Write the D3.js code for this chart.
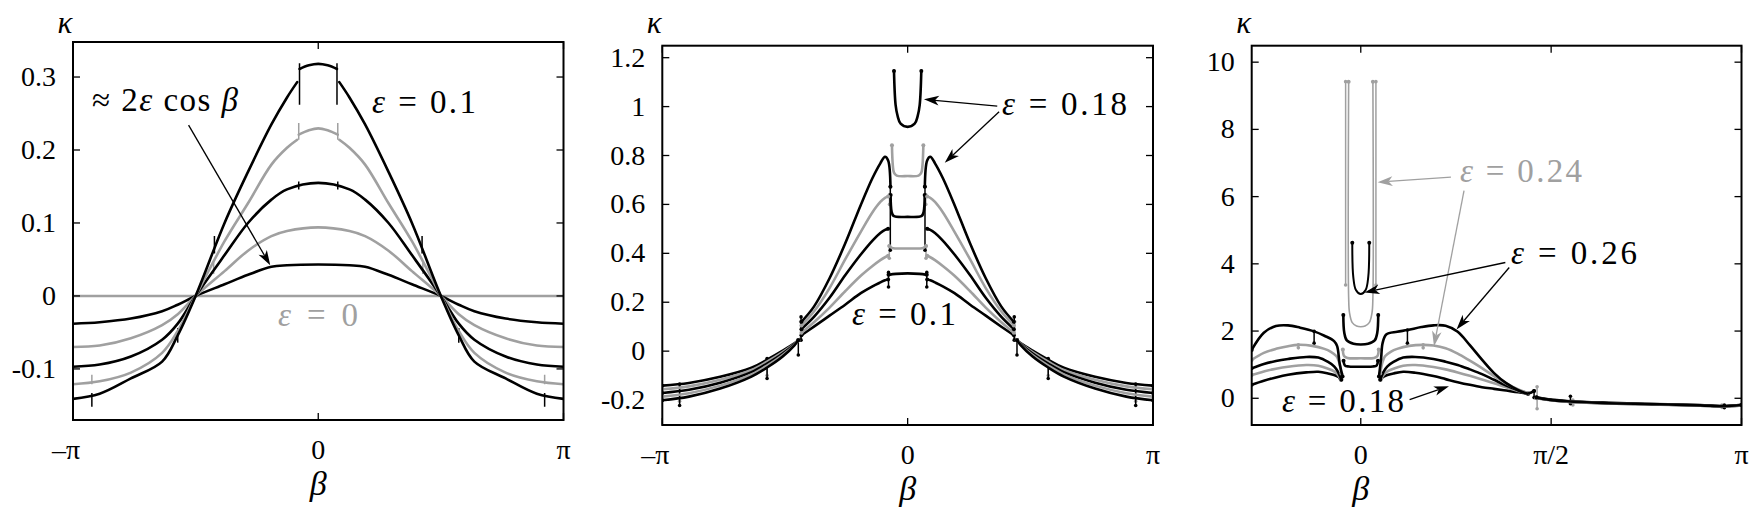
<!DOCTYPE html>
<html><head><meta charset="utf-8">
<script src="https://cdn.jsdelivr.net/npm/d3@7"></script>
<style>body{margin:0;background:#fff;}</style>
</head><body>
<svg id="c" width="1758" height="513"></svg>
<script>
const PI = Math.PI;

// ---------------- Panel 1 data (epsilon = 0 ... 0.1) ----------------
const p1_eps = [0, 0.02, 0.04, 0.06, 0.08, 0.1];
const p1_b   = [-3.1416,-2.8,-2.4,-2.0,-1.8,-1.5708,-1.2,-0.9,-0.6,-0.4,0,0.4,0.6,0.9,1.2,1.5708,1.8,2.0,2.4,2.8,3.1416];
const p1_k0  = [0,0,0,0,0,0,0,0,0,0,0,0,0,0,0,0,0,0,0,0,0];
const p1_k02 = [-0.038,-0.036,-0.031,-0.021,-0.012,0,0.016,0.029,0.040,0.042,0.043,0.042,0.040,0.029,0.016,0,-0.012,-0.021,-0.031,-0.036,-0.038];
const p1_k04 = [-0.070,-0.068,-0.058,-0.040,-0.025,0,0.034,0.062,0.082,0.089,0.094,0.089,0.082,0.062,0.034,0,-0.025,-0.040,-0.058,-0.068,-0.070];
const p1_k06 = [-0.097,-0.094,-0.083,-0.060,-0.038,0,0.056,0.100,0.132,0.146,0.155,0.146,0.132,0.100,0.056,0,-0.038,-0.060,-0.083,-0.094,-0.097];
const p1_bL  = [-3.1416,-2.8,-2.4,-2.0,-1.8,-1.5708,-1.2,-0.9,-0.6,-0.4,-0.27];
const p1_bR  = [0.27,0.4,0.6,0.9,1.2,1.5708,1.8,2.0,2.4,2.8,3.1416];
const p1_k08L = [-0.121,-0.117,-0.105,-0.078,-0.048,0,0.075,0.127,0.180,0.203,0.214];
const p1_k08R = [0.214,0.203,0.180,0.127,0.075,0,-0.048,-0.078,-0.105,-0.117,-0.121];
const p1_b08C = [-0.25,-0.12,0,0.12,0.25];
const p1_k08C = [0.221,0.227,0.2297,0.227,0.221];
const p1_k10L = [-0.141,-0.134,-0.113,-0.090,-0.054,0,0.100,0.170,0.235,0.272,0.293];
const p1_k10R = [0.293,0.272,0.235,0.170,0.100,0,-0.054,-0.090,-0.113,-0.134,-0.141];
const p1_b10C = [-0.24,-0.12,0,0.12,0.24];
const p1_k10C = [0.311,0.316,0.318,0.316,0.311];
// jumps: [beta, kappa from, kappa to]
const p1_jumpsBlack = [[-2.90,-0.133,-0.152],[2.90,-0.133,-0.152],[-1.80,-0.044,-0.064],[1.80,-0.044,-0.064],
  [-1.33,0.058,0.082],[1.33,0.058,0.082],[-0.24,0.262,0.319],[0.24,0.262,0.319],[-0.25,0.146,0.157],[0.25,0.146,0.157]];
const p1_jumpsGray = [[-2.90,-0.121,-0.108],[2.90,-0.121,-0.108],[-1.34,0.030,0.046],[1.34,0.030,0.046],
  [-0.25,0.214,0.237],[0.25,0.214,0.237]];
const p1_xticks = [-PI, 0, PI], p1_xlabels = ["\u2013\u03c0","0","\u03c0"];
const p1_yticks = [-0.1,0,0.1,0.2,0.3], p1_ylabels = ["-0.1","0","0.1","0.2","0.3"];
const p1_arrow = [[-1.661,0.234],[-0.615,0.042]];

// ---------------- Panel 2 data (epsilon = 0.1 ... 0.18) ----------------
const p2_eps = [0.1, 0.12, 0.14, 0.16, 0.18];
const p2_tailBL = [-3.1416,-2.8,-2.4,-2.0,-1.8,-1.6,-1.45,-1.40];
const p2_tailBR = [1.40,1.45,1.6,1.8,2.0,2.4,2.8,3.1416];
const p2_tail10L = [-0.141,-0.130,-0.105,-0.068,-0.035,0.002,0.032,0.045];
const p2_tail10R = [0.045,0.032,0.002,-0.035,-0.068,-0.105,-0.130,-0.141];
const p2_tail12L = [-0.156,-0.144,-0.117,-0.077,-0.043,-0.004,0.030,0.045];
const p2_tail12R = [0.045,0.030,-0.004,-0.043,-0.077,-0.117,-0.144,-0.156];
const p2_tail14L = [-0.171,-0.158,-0.129,-0.086,-0.051,-0.010,0.028,0.045];
const p2_tail14R = [0.045,0.028,-0.010,-0.051,-0.086,-0.129,-0.158,-0.171];
const p2_tail16L = [-0.186,-0.172,-0.141,-0.095,-0.059,-0.016,0.026,0.045];
const p2_tail16R = [0.045,0.026,-0.016,-0.059,-0.095,-0.141,-0.172,-0.186];
const p2_tail18L = [-0.201,-0.186,-0.153,-0.104,-0.067,-0.022,0.024,0.045];
const p2_tail18R = [0.045,0.024,-0.022,-0.067,-0.104,-0.153,-0.186,-0.201];
const p2_outBL = [-1.36,-1.2,-1.0,-0.8,-0.6,-0.45,-0.35,-0.29,-0.25];
const p2_outBR = [0.25,0.29,0.35,0.45,0.6,0.8,1.0,1.2,1.36];
const p2_out10L = [0.065,0.100,0.145,0.190,0.237,0.265,0.281,0.290,0.293];
const p2_out10R = [0.293,0.290,0.281,0.265,0.237,0.190,0.145,0.100,0.065];
const p2_out12L = [0.075,0.118,0.178,0.245,0.308,0.348,0.372,0.384,0.390];
const p2_out12R = [0.390,0.384,0.372,0.348,0.308,0.245,0.178,0.118,0.075];
const p2_out14L = [0.090,0.140,0.218,0.310,0.395,0.452,0.483,0.496,0.500];
const p2_out14R = [0.500,0.496,0.483,0.452,0.395,0.310,0.218,0.140,0.090];
const p2_out16L = [0.105,0.162,0.258,0.375,0.488,0.568,0.610,0.627,0.632];
const p2_out16R = [0.632,0.627,0.610,0.568,0.488,0.375,0.258,0.162,0.105];
const p2_out18BL = [-1.36,-1.2,-1.0,-0.8,-0.6,-0.45,-0.35,-0.29,-0.25,-0.22];
const p2_out18BR = [0.22,0.25,0.29,0.35,0.45,0.6,0.8,1.0,1.2,1.36];
const p2_out18L = [0.120,0.182,0.298,0.440,0.598,0.708,0.768,0.795,0.780,0.672];
const p2_out18R = [0.672,0.780,0.795,0.768,0.708,0.598,0.440,0.298,0.182,0.120];
const p2_c10B = [-0.245,-0.15,0,0.15,0.245], p2_c10K = [0.312,0.316,0.318,0.316,0.312];
const p2_c12B = [-0.235,-0.2,0,0.2,0.235],   p2_c12K = [0.430,0.422,0.420,0.422,0.430];
const p2_c14B = [-0.218,-0.205,-0.18,0,0.18,0.205,0.218], p2_c14K = [0.638,0.570,0.553,0.549,0.553,0.570,0.638];
const p2_c16B = [-0.201,-0.19,-0.175,-0.14,0,0.14,0.175,0.19,0.201], p2_c16K = [0.842,0.760,0.730,0.718,0.716,0.718,0.730,0.760,0.842];
const p2_c18B = [-0.175,-0.154,-0.128,-0.09,0,0.09,0.128,0.154,0.175], p2_c18K = [1.146,1.006,0.961,0.930,0.917,0.930,0.961,1.006,1.146];
const p2_jumpsBlack = [[-2.92,-0.135,-0.222],[2.92,-0.135,-0.222],[-1.80,-0.030,-0.112],[1.80,-0.030,-0.112],
  [-1.40,0.045,-0.016],[1.40,0.045,-0.016],[-1.365,0.045,0.140],[1.365,0.045,0.140],
  [-0.245,0.262,0.322],[0.245,0.262,0.322],[-0.222,0.413,0.672],[0.222,0.413,0.672]];
const p2_jumpsGray = [[-2.92,-0.150,-0.205],[2.92,-0.150,-0.205],[-1.80,-0.045,-0.100],[1.80,-0.045,-0.100],
  [-1.37,0.050,0.120],[1.37,0.050,0.120],[-0.235,0.380,0.430],[0.235,0.380,0.430],[-0.232,0.600,0.640],[0.232,0.600,0.640]];
const p2_xticks = [-PI,0,PI], p2_xlabels = ["\u2013\u03c0","0","\u03c0"];
const p2_yticks = [-0.2,0,0.2,0.4,0.6,0.8,1,1.2], p2_ylabels = ["-0.2","0","0.2","0.4","0.6","0.8","1","1.2"];
const p2_arrows = [[[1.147,1.002],[0.209,1.03]],[[1.171,0.979],[0.475,0.77]]];

// ---------------- Panel 3 data (epsilon = 0.18 ... 0.26) ----------------
const p3_eps = [0.18, 0.2, 0.22, 0.24, 0.26];
const p3_tailB = [1.45,1.55,1.7,2.0,2.4,2.8,3.0,3.1416];
const p3_tail18 = [0.030,-0.030,-0.080,-0.130,-0.168,-0.205,-0.230,-0.195];
const p3_tail20 = [0.005,-0.050,-0.100,-0.150,-0.183,-0.218,-0.240,-0.210];
const p3_tail22 = [0.010,-0.045,-0.095,-0.145,-0.180,-0.215,-0.238,-0.205];
const p3_tail24 = [0.000,-0.050,-0.100,-0.150,-0.185,-0.220,-0.240,-0.210];
const p3_tail26 = [0.020,-0.040,-0.090,-0.140,-0.175,-0.210,-0.235,-0.200];
const p3_18LB = [-0.9,-0.8,-0.7,-0.6,-0.45,-0.35,-0.27,-0.22,-0.19,-0.17];
const p3_18LK = [0.40,0.52,0.62,0.70,0.77,0.79,0.74,0.69,0.645,0.60];
const p3_18CB = [-0.142,-0.132,-0.10,0,0.10,0.132,0.142], p3_18CK = [1.12,0.98,0.945,0.94,0.945,0.98,1.12];
const p3_18RB = [0.17,0.19,0.22,0.27,0.35,0.45,0.6,0.7,0.8,0.9,1.0,1.1,1.2,1.3,1.38];
const p3_18RK = [0.60,0.645,0.69,0.74,0.79,0.76,0.66,0.57,0.48,0.40,0.33,0.28,0.23,0.18,0.13];
const p3_20LB = [-0.9,-0.8,-0.7,-0.6,-0.45,-0.35,-0.27,-0.22,-0.19,-0.165];
const p3_20LK = [0.69,0.80,0.88,0.94,0.99,0.97,0.88,0.80,0.70,0.55];
const p3_20CB = [-0.148,-0.138,-0.11,0,0.11,0.138,0.148], p3_20CK = [1.45,1.26,1.20,1.19,1.20,1.26,1.45];
const p3_20RB = [0.165,0.19,0.22,0.27,0.35,0.45,0.6,0.7,0.8,0.9,1.0,1.1,1.2,1.3,1.38];
const p3_20RK = [0.55,0.70,0.80,0.88,0.97,0.99,0.93,0.86,0.77,0.67,0.56,0.45,0.33,0.22,0.14];
const p3_22LB = [-0.9,-0.8,-0.7,-0.6,-0.45,-0.35,-0.27,-0.22,-0.19,-0.16];
const p3_22LK = [0.89,1.02,1.11,1.17,1.23,1.21,1.08,0.95,0.80,0.55];
const p3_22CB = [-0.144,-0.136,-0.115,-0.06,0,0.06,0.115,0.136,0.144], p3_22CK = [2.48,1.95,1.72,1.62,1.60,1.62,1.72,1.95,2.48];
const p3_22RB = [0.16,0.19,0.22,0.27,0.35,0.45,0.6,0.7,0.8,0.9,1.0,1.1,1.2,1.3,1.38];
const p3_22RK = [0.55,0.80,0.95,1.08,1.21,1.23,1.17,1.09,0.99,0.86,0.72,0.55,0.38,0.24,0.15];
const p3_24LB = [-0.9,-0.8,-0.7,-0.6,-0.515,-0.4,-0.3,-0.25,-0.2,-0.18,-0.16];
const p3_24LK = [1.14,1.35,1.47,1.55,1.59,1.56,1.47,1.39,1.25,1.08,0.74];
const p3_24CB = [-0.10,-0.10,-0.093,-0.07,-0.035,0,0.035,0.07,0.093,0.10,0.10];
const p3_24CK = [9.42,3.0,2.55,2.25,2.15,2.13,2.15,2.25,2.55,3.0,9.42];
const p3_24RB = [0.16,0.18,0.2,0.25,0.3,0.4,0.515,0.6,0.7,0.8,0.9,1.0,1.1,1.2,1.3,1.38];
const p3_24RK = [0.74,1.08,1.25,1.39,1.47,1.56,1.59,1.57,1.49,1.33,1.12,0.90,0.66,0.44,0.26,0.16];
const p3_26LB = [-0.9,-0.8,-0.7,-0.6,-0.5,-0.385,-0.3,-0.22,-0.195,-0.175,-0.15];
const p3_26LK = [1.44,1.95,2.15,2.17,2.10,1.99,1.86,1.70,1.55,1.05,0.645];
const p3_26CB = [-0.07,-0.062,-0.04,0,0.04,0.062,0.07], p3_26CK = [4.63,3.62,3.22,3.10,3.22,3.62,4.63];
const p3_26RB = [0.15,0.168,0.18,0.21,0.3,0.385,0.5,0.6,0.7,0.8,0.9,1.0,1.1,1.2,1.3,1.38,1.43];
const p3_26RK = [0.645,1.2,1.64,1.90,1.98,2.03,2.12,2.17,2.16,1.98,1.58,1.15,0.75,0.45,0.24,0.14,0.22];
// straight vertical pieces: [beta, kappa from, kappa to]
const p3_jumpsBlack = [[-0.385,1.99,1.64],[0.385,2.03,1.64],[1.73,0.06,-0.16],[3.0,-0.20,-0.28],[1.43,0.22,0.02]];
const p3_jumpsGray = [[-0.125,9.42,3.37],[0.125,9.42,3.37],[-0.515,1.59,1.50],[0.515,1.59,1.50],
  [1.455,0.34,-0.31],[1.75,-0.05,-0.20],[2.98,-0.20,-0.27]];
const p3_xticks = [0, PI/2, PI], p3_xlabels = ["0","\u03c0/2","\u03c0"];
const p3_yticks = [0,2,4,6,8,10], p3_ylabels = ["0","2","4","6","8","10"];
const p3_arrowsGray  = [[[0.744,6.58],[0.139,6.43]],[[0.852,6.18],[0.604,1.55]]];
const p3_arrowsBlack = [[[1.193,4.04],[0.031,3.15]],[[1.225,3.89],[0.79,2.05]],[[0.403,-0.04],[0.728,0.36]]];

// ---------------- drawing ----------------
const BLACK = "#000", GRAY = "#a0a0a0";
const FONT = "Liberation Serif";
const svg = d3.select("#c");
const Z = (b, k) => d3.zip(b, k);

const layout = [
  {x0:73,   x1:563.5,  y0:42,   y1:420, xd:[-PI,PI],  yd:[-0.17,0.348]},
  {x0:662.3,x1:1153,   y0:45.7, y1:425, xd:[-PI,PI],  yd:[-0.302,1.249]},
  {x0:1251.7,x1:1741.5,y0:45.7, y1:425, xd:[-0.9,PI], yd:[-0.795,10.49]}
];

function arrowHead(g, sx, sy, a, color) {
  const x0 = sx(a[0][0]), y0 = sy(a[0][1]), x1 = sx(a[1][0]), y1 = sy(a[1][1]);
  const ang = Math.atan2(y1 - y0, x1 - x0), c = Math.cos(ang), s = Math.sin(ang);
  const L = 15, W = 4.8, N = 11;
  g.append("line").attr("x1", x0).attr("y1", y0).attr("x2", x1 - N*c).attr("y2", y1 - N*s)
    .attr("stroke", color).attr("stroke-width", 1.3);
  const bx = x1 - L*c, by = y1 - L*s;
  g.append("path").attr("d", `M${x1},${y1}L${bx - W*s},${by + W*c}L${x1 - N*c},${y1 - N*s}L${bx + W*s},${by - W*c}Z`)
    .attr("fill", color);
}

function txt(g) { return g.append("text").attr("font-family", FONT); }

function eqText(g, x, y, val, color, w) {
  const t = txt(g).attr("x", x).attr("y", y).attr("font-size", 33)
    .attr("textLength", w).attr("lengthAdjust", "spacing").attr("fill", color);
  t.append("tspan").attr("font-style", "italic").text("\u03b5");
  t.append("tspan").text(" = " + val);
  return t;
}

function panel(i, curves, jumpsB, jumpsG, xt, xl, yt, yl, dots) {
  const L = layout[i];
  const sx = d3.scaleLinear().domain(L.xd).range([L.x0, L.x1]);
  const sy = d3.scaleLinear().domain(L.yd).range([L.y1, L.y0]);
  svg.append("clipPath").attr("id", "cp" + i).append("rect")
    .attr("x", L.x0).attr("y", L.y0).attr("width", L.x1 - L.x0).attr("height", L.y1 - L.y0);
  const g = svg.append("g").attr("clip-path", `url(#cp${i})`);
  const smooth = d3.line().x(d => sx(d[0])).y(d => sy(d[1])).curve(d3.curveCatmullRom.alpha(0.5));
  const straight = d3.line().x(d => sx(d[0])).y(d => sy(d[1]));
  [[jumpsG, GRAY], [jumpsB, BLACK]].forEach(([J, col]) => {
    J.forEach(j => {
      g.append("path").attr("d", straight([[j[0], j[1]], [j[0], j[2]]])).attr("fill", "none")
        .attr("stroke", col).attr("stroke-width", 1.5);
      if (dots) [j[1], j[2]].forEach(k => g.append("circle").attr("cx", sx(j[0])).attr("cy", sy(k)).attr("r", 1.8).attr("fill", col));
    });
  });
  curves.forEach(cv => {
    cv.segs.forEach(sg => {
      g.append("path").attr("d", smooth(sg)).attr("fill", "none").attr("stroke", cv.color)
        .attr("stroke-width", cv.w || 2.6).attr("stroke-linejoin", "round").attr("stroke-linecap", "round");
      if (dots) [sg[0], sg[sg.length - 1]].forEach(p => g.append("circle").attr("cx", sx(p[0])).attr("cy", sy(p[1])).attr("r", 2).attr("fill", cv.color));
    });
  });
  const ax = svg.append("g");
  const tk = 7;
  xt.forEach(v => {
    ax.append("line").attr("x1", sx(v)).attr("x2", sx(v)).attr("y1", L.y1).attr("y2", L.y1 - tk).attr("stroke", "#000").attr("stroke-width", 1.3);
    ax.append("line").attr("x1", sx(v)).attr("x2", sx(v)).attr("y1", L.y0).attr("y2", L.y0 + tk).attr("stroke", "#000").attr("stroke-width", 1.3);
  });
  yt.forEach(v => {
    ax.append("line").attr("x1", L.x0).attr("x2", L.x0 + tk).attr("y1", sy(v)).attr("y2", sy(v)).attr("stroke", "#000").attr("stroke-width", 1.3);
    ax.append("line").attr("x1", L.x1).attr("x2", L.x1 - tk).attr("y1", sy(v)).attr("y2", sy(v)).attr("stroke", "#000").attr("stroke-width", 1.3);
  });
  ax.append("rect").attr("x", L.x0).attr("y", L.y0).attr("width", L.x1 - L.x0).attr("height", L.y1 - L.y0)
    .attr("fill", "none").attr("stroke", "#000").attr("stroke-width", 2);
  xt.forEach((v, k) => {
    txt(ax).attr("x", sx(v) + (xl[k].startsWith("\u2013") ? -7 : 0)).attr("y", L.y1 + 39)
      .attr("text-anchor", "middle").attr("font-size", 28).text(xl[k]);
  });
  yt.forEach((v, k) => {
    txt(ax).attr("x", L.x0 - 17).attr("y", sy(v) + 9).attr("text-anchor", "end")
      .attr("font-size", 28).text(yl[k]);
  });
  txt(ax).attr("x", sx(0)).attr("y", L.y1 + 75).attr("text-anchor", "middle")
    .attr("font-size", 34).attr("font-style", "italic").text("\u03b2");
  txt(ax).attr("x", L.x0 - 8).attr("y", 33).attr("text-anchor", "middle")
    .attr("font-size", 31).attr("font-style", "italic").text("\u03ba");
  return {sx, sy, g: svg.append("g")};
}

// Panel 1
const c1 = [
  {color: GRAY,  segs: [Z(p1_b, p1_k0)]},
  {color: BLACK, segs: [Z(p1_b, p1_k02)]},
  {color: GRAY,  segs: [Z(p1_b, p1_k04)]},
  {color: BLACK, segs: [Z(p1_b, p1_k06)]},
  {color: GRAY,  segs: [Z(p1_bL, p1_k08L), Z(p1_b08C, p1_k08C), Z(p1_bR, p1_k08R)]},
  {color: BLACK, segs: [Z(p1_bL, p1_k10L), Z(p1_b10C, p1_k10C), Z(p1_bR, p1_k10R)]}
];
const P1 = panel(0, c1, p1_jumpsBlack, p1_jumpsGray, p1_xticks, p1_xlabels, p1_yticks, p1_ylabels, false);
arrowHead(P1.g, P1.sx, P1.sy, p1_arrow, BLACK);
{
  const t = txt(P1.g).attr("x", 92).attr("y", 111).attr("font-size", 33)
    .attr("textLength", 146).attr("lengthAdjust", "spacing");
  t.append("tspan").text("\u2248 2");
  t.append("tspan").attr("font-style", "italic").text("\u03b5");
  t.append("tspan").text(" cos ");
  t.append("tspan").attr("font-style", "italic").text("\u03b2");
}
eqText(P1.g, 372, 113, "0.1", BLACK, 104);
eqText(P1.g, 278, 326, "0", GRAY, 80);

// Panel 2
const c2 = [
  {color: BLACK, segs: [Z(p2_tailBL, p2_tail10L), Z(p2_outBL, p2_out10L), Z(p2_c10B, p2_c10K), Z(p2_outBR, p2_out10R), Z(p2_tailBR, p2_tail10R)]},
  {color: GRAY,  segs: [Z(p2_tailBL, p2_tail12L), Z(p2_outBL, p2_out12L), Z(p2_c12B, p2_c12K), Z(p2_outBR, p2_out12R), Z(p2_tailBR, p2_tail12R)]},
  {color: BLACK, segs: [Z(p2_tailBL, p2_tail14L), Z(p2_outBL, p2_out14L), Z(p2_c14B, p2_c14K), Z(p2_outBR, p2_out14R), Z(p2_tailBR, p2_tail14R)]},
  {color: GRAY,  segs: [Z(p2_tailBL, p2_tail16L), Z(p2_outBL, p2_out16L), Z(p2_c16B, p2_c16K), Z(p2_outBR, p2_out16R), Z(p2_tailBR, p2_tail16R)]},
  {color: BLACK, segs: [Z(p2_tailBL, p2_tail18L), Z(p2_out18BL, p2_out18L), Z(p2_c18B, p2_c18K), Z(p2_out18BR, p2_out18R), Z(p2_tailBR, p2_tail18R)]}
];
const P2 = panel(1, c2, p2_jumpsBlack, p2_jumpsGray, p2_xticks, p2_xlabels, p2_yticks, p2_ylabels, true);
p2_arrows.forEach(a => arrowHead(P2.g, P2.sx, P2.sy, a, BLACK));
eqText(P2.g, 1002, 115, "0.18", BLACK, 125);
eqText(P2.g, 852, 325, "0.1", BLACK, 104);

// Panel 3
const c3 = [
  {color: BLACK, segs: [Z(p3_18LB, p3_18LK), Z(p3_18CB, p3_18CK), Z(p3_18RB, p3_18RK), Z(p3_tailB, p3_tail18)]},
  {color: GRAY,  segs: [Z(p3_20LB, p3_20LK), Z(p3_20CB, p3_20CK), Z(p3_20RB, p3_20RK), Z(p3_tailB, p3_tail20)]},
  {color: BLACK, segs: [Z(p3_22LB, p3_22LK), Z(p3_22CB, p3_22CK), Z(p3_22RB, p3_22RK), Z(p3_tailB, p3_tail22)]},
  {color: GRAY,  segs: [Z(p3_24LB, p3_24LK), Z(p3_24RB, p3_24RK), Z(p3_tailB, p3_tail24)]},
  {color: GRAY,  w: 1.6, segs: [Z(p3_24CB, p3_24CK)]},
  {color: BLACK, segs: [Z(p3_26LB, p3_26LK), Z(p3_26RB, p3_26RK), Z(p3_tailB, p3_tail26)]},
  {color: BLACK, w: 2, segs: [Z(p3_26CB, p3_26CK)]}
];
const P3 = panel(2, c3, p3_jumpsBlack, p3_jumpsGray, p3_xticks, p3_xlabels, p3_yticks, p3_ylabels, true);
p3_arrowsGray.forEach(a => arrowHead(P3.g, P3.sx, P3.sy, a, GRAY));
p3_arrowsBlack.forEach(a => arrowHead(P3.g, P3.sx, P3.sy, a, BLACK));
eqText(P3.g, 1460, 182, "0.24", GRAY, 122);
eqText(P3.g, 1511, 264, "0.26", BLACK, 126);
eqText(P3.g, 1282, 412, "0.18", BLACK, 122);
</script>
</body></html>
